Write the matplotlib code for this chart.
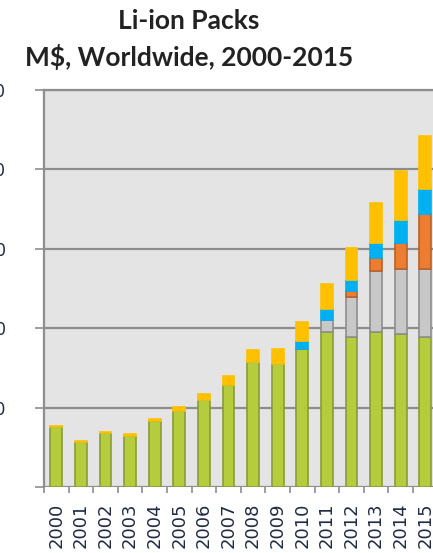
import matplotlib
matplotlib.use('Agg')
import matplotlib.pyplot as plt
import matplotlib.ticker as mticker
import numpy as np

years = ['2000', '2001', '2002', '2003', '2004', '2005', '2006', '2007',
         '2008', '2009', '2010', '2011', '2012', '2013', '2014', '2015']

# M$ per segment (bottom to top)
green  = [3800, 2850, 3380, 3230, 4180, 4810, 5480, 6430,
          7870, 7730, 8710, 9760, 9470, 9760, 9620, 9470]
gray   = [0, 0, 0, 0, 0, 0, 0, 0, 0, 0, 0, 760, 2520, 3840, 4120, 4260]
orange = [0, 0, 0, 0, 0, 0, 0, 0, 0, 0, 0, 0, 380, 800, 1620, 3440]
blue   = [0, 0, 0, 0, 0, 0, 0, 0, 0, 0, 490, 670, 670, 950, 1470, 1620]
yellow = [60, 60, 80, 100, 80, 250, 360, 570,
          760, 950, 1200, 1600, 2040, 2520, 3050, 3340]

y_ticks = [0, 5000, 10000, 15000, 20000, 25000]

SERIES = [
    (green,  '#B5CD3C', '#8A9C3A'),
    (gray,   '#C8C8C8', '#8E8E8E'),
    (orange, '#ED7D31', '#B8622A'),
    (blue,   '#00B0F0', '#00B0F0'),
    (yellow, '#FFC000', '#FFC000'),
]
GRID = '#8E8E8E'

W, H = 433, 553
fig = plt.figure(figsize=(W / 100, H / 100), dpi=100)
fig.patch.set_facecolor('white')
ax = fig.add_axes([44 / W, 66 / H, 393.6 / W, 397 / H])
ax.set_facecolor('#E4E4E4')

x = np.arange(len(years))
bottom = np.zeros(len(years))
for vals, face, edge in SERIES:
    v = np.array(vals, dtype=float)
    ax.bar(x, v, width=0.48, bottom=bottom, color=face,
           edgecolor=edge, linewidth=1.2, zorder=3)
    bottom += v

ax.set_xlim(-0.5, len(years) - 0.5)
ax.set_ylim(0, 25000)

ax.set_axisbelow(True)
ax.yaxis.grid(True, color=GRID, linewidth=1.6)
for s in ['right', 'bottom']:
    ax.spines[s].set_visible(False)
ax.spines['top'].set_color(GRID)
ax.spines['top'].set_linewidth(1.6)
ax.spines['left'].set_color(GRID)
ax.spines['left'].set_linewidth(1.6)

# y axis: the labels run off the left edge, as in the source picture
ax.set_yticks(y_ticks)
ax.set_yticklabels([''] + [f'{t:,}' for t in y_ticks[1:]])
ax.tick_params(axis='y', length=6.5, width=1.2, color=GRID, pad=21,
               labelsize=12, labelcolor='#1F2A44')

# x axis: tick marks on category boundaries, labels centred on bars
ax.xaxis.set_major_locator(mticker.FixedLocator(np.arange(-0.5, len(years), 1.0)))
ax.xaxis.set_major_formatter(mticker.NullFormatter())
ax.xaxis.set_minor_locator(mticker.FixedLocator(x))
ax.xaxis.set_minor_formatter(mticker.FixedFormatter(years))
ax.tick_params(axis='x', which='major', length=4, width=1.2, color=GRID)
ax.tick_params(axis='x', which='minor', length=0, pad=11,
               labelsize=13, labelrotation=90, labelcolor='#1F2A44')

fig.text(189 / W, 1 - 21 / H, 'Li-ion Packs', ha='center', va='center',
         fontsize=19, fontweight='bold', family='Lato', color='#222222')
fig.text(189 / W, 1 - 57 / H, 'M$, Worldwide, 2000-2015', ha='center',
         va='center', fontsize=19, fontweight='bold', family='Lato',
         color='#222222')

fig.savefig('out.png', dpi=100)
